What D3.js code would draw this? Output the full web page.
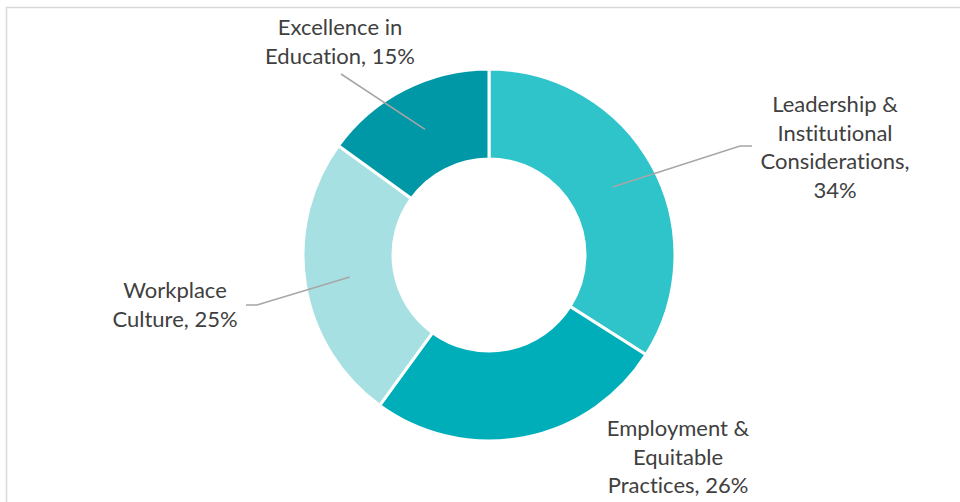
<!DOCTYPE html>
<html>
<head>
<meta charset="utf-8">
<script src="https://cdn.jsdelivr.net/npm/d3@7"></script>
<style>
  html, body { margin: 0; padding: 0; background: #fff; }
  svg { display: block; }
  .lbl { font-family: Lato, "Open Sans", sans-serif; fill: #404040; font-variant-ligatures: none; }
</style>
</head>
<body>
<div id="chart"></div>
<script>
const categories = ['Leadership & Institutional Considerations', 'Employment & Equitable Practices', 'Workplace Culture', 'Excellence in Education']
const values = [34, 26, 25, 15]
const labelLines = [
  ['Leadership &', 'Institutional', 'Considerations,', '34%'],
  ['Employment &', 'Equitable', 'Practices, 26%'],
  ['Workplace', 'Culture, 25%'],
  ['Excellence in', 'Education, 15%']
]
const colors = ['#2ec4ca', '#00aeba', '#a7e0e2', '#0098a6']

// label placement (layout, not data)
const labelLayout = [
  {x: 835, y: 112, elbow: [740, 146], end: [752, 146]},
  {x: 678, y: 436, elbow: null, end: null},
  {x: 175, y: 298, elbow: [257, 305], end: [246, 305]},
  {x: 340, y: 35, elbow: [341, 74], end: null}
]

const width = 960, height = 502
const cx = 489, cy = 255
const outerR = 186, innerR = 96
const lineH = 28.7

const svg = d3.select('#chart').append('svg')
  .attr('width', width)
  .attr('height', height)

svg.append('path')
  .attr('d', `M6.5,${height + 5} V7.5 H${width + 5}`)
  .attr('fill', 'none')
  .attr('stroke', '#d9d9d9')
  .attr('stroke-width', 1.5)

const g = svg.append('g').attr('transform', `translate(${cx},${cy})`)

const pie = d3.pie().sort(null).value(d => d)
const arcs = pie(values)

const arc = d3.arc().innerRadius(innerR).outerRadius(outerR)
const midArc = d3.arc().innerRadius((innerR + outerR) / 2).outerRadius((innerR + outerR) / 2)

g.selectAll('path.slice')
  .data(arcs)
  .join('path')
  .attr('class', 'slice')
  .attr('d', arc)
  .attr('fill', (d, i) => colors[i])
  .attr('stroke', '#fff')
  .attr('stroke-width', 3)

// leader lines
arcs.forEach((d, i) => {
  const lay = labelLayout[i]
  if (!lay.elbow) return
  const c = midArc.centroid(d)
  const pts = [[c[0] + cx, c[1] + cy], lay.elbow]
  if (lay.end) pts.push(lay.end)
  svg.append('path')
    .attr('d', d3.line()(pts))
    .attr('fill', 'none')
    .attr('stroke', '#a6a6a6')
    .attr('stroke-width', 1.5)
})

// labels
labelLines.forEach((lines, i) => {
  const lay = labelLayout[i]
  const t = svg.append('text')
    .attr('class', 'lbl')
    .attr('text-anchor', 'middle')
    .attr('font-size', 22)
  lines.forEach((s, j) => {
    t.append('tspan')
      .attr('x', lay.x)
      .attr('y', lay.y + j * lineH)
      .text(s)
  })
})
</script>
</body>
</html>
